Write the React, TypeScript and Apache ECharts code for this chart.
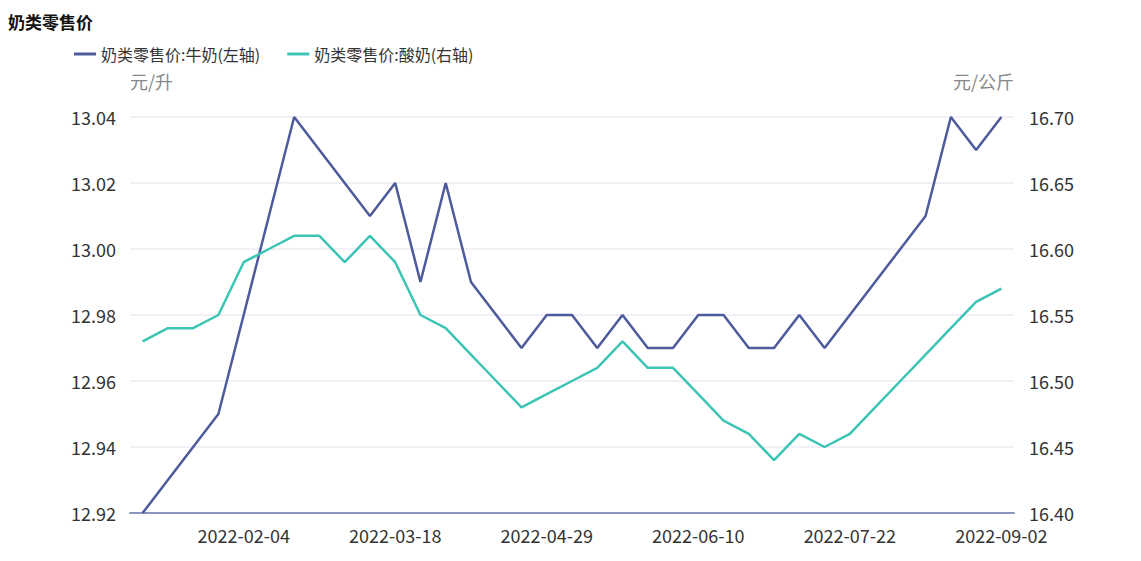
import React, { useEffect, useRef } from "react";
import * as echarts from "echarts";

const dates = [
  "2022-01-07", "2022-01-14", "2022-01-21", "2022-01-28", "2022-02-04", "2022-02-11", "2022-02-18",
  "2022-02-25", "2022-03-04", "2022-03-11", "2022-03-18", "2022-03-25", "2022-04-01", "2022-04-08",
  "2022-04-15", "2022-04-22", "2022-04-29", "2022-05-06", "2022-05-13", "2022-05-20", "2022-05-27",
  "2022-06-03", "2022-06-10", "2022-06-17", "2022-06-24", "2022-07-01", "2022-07-08", "2022-07-15",
  "2022-07-22", "2022-07-29", "2022-08-05", "2022-08-12", "2022-08-19", "2022-08-26", "2022-09-02",
];

const milk = [
  12.92, 12.93, 12.94, 12.95, 12.98, 13.01, 13.04, 13.03, 13.02, 13.01, 13.02, 12.99,
  13.02, 12.99, 12.98, 12.97, 12.98, 12.98, 12.97, 12.98, 12.97, 12.97, 12.98, 12.98,
  12.97, 12.97, 12.98, 12.97, 12.98, 12.99, 13.0, 13.01, 13.04, 13.03, 13.04,
];

const yogurt = [
  16.53, 16.54, 16.54, 16.55, 16.59, 16.6, 16.61, 16.61, 16.59, 16.61, 16.59, 16.55,
  16.54, 16.52, 16.5, 16.48, 16.49, 16.5, 16.51, 16.53, 16.51, 16.51, 16.49, 16.47,
  16.46, 16.44, 16.46, 16.45, 16.46, 16.48, 16.5, 16.52, 16.54, 16.56, 16.57,
];

const seriesNames = ["奶类零售价:牛奶(左轴)", "奶类零售价:酸奶(右轴)"];
const title = "奶类零售价";
const leftUnit = "元/升";
const rightUnit = "元/公斤";

const FONT = "'Noto Sans CJK SC', 'Noto Sans', sans-serif";

export default function App() {
  const ref = useRef<HTMLDivElement>(null);
  useEffect(() => {
    if (!ref.current) return;
    const chart = echarts.init(ref.current, null, { renderer: "svg" });
    chart.setOption({
      animation: false,
      textStyle: { fontFamily: FONT },
      title: {
        text: title,
        left: -5,
        top: 0,
        textStyle: { fontSize: 17, fontWeight: "bold", color: "#111", fontFamily: FONT },
      },
      legend: {
        top: 33,
        left: 61,
        itemWidth: 22,
        itemHeight: 3,
        itemGap: 27,
        textStyle: { fontSize: 16, color: "#333", fontFamily: FONT },
        data: [
          { name: seriesNames[0], icon: "rect" },
          { name: seriesNames[1], icon: "rect" },
        ],
      },
      grid: { left: 122, right: 119, top: 109, bottom: 40, containLabel: false },
      xAxis: {
        type: "category",
        data: dates,
        boundaryGap: true,
        axisLine: { lineStyle: { color: "#8a96bd", width: 2 } },
        axisTick: { show: false },
        axisLabel: {
          interval: (index: number) => index % 6 === 4,
          color: "#333",
          fontSize: 18,
          lineHeight: 18,
          margin: 13,
          fontFamily: FONT,
        },
      },
      yAxis: [
        {
          type: "value",
          min: 12.92,
          max: 13.04,
          interval: 0.02,
          name: leftUnit,
          nameLocation: "end",
          nameGap: 27,
          nameTextStyle: { color: "#888", fontSize: 18, align: "left", fontFamily: FONT },
          axisLine: { show: false },
          axisTick: { show: false },
          axisLabel: {
            color: "#333",
            fontSize: 18,
            lineHeight: 16,
            margin: 14,
            formatter: (v: number) => v.toFixed(2),
            fontFamily: FONT,
          },
          splitLine: { lineStyle: { color: "#f0f0f6", width: 2 } },
        },
        {
          type: "value",
          min: 16.4,
          max: 16.7,
          interval: 0.05,
          name: rightUnit,
          nameLocation: "end",
          nameGap: 27,
          nameTextStyle: { color: "#888", fontSize: 18, align: "right", fontFamily: FONT },
          axisLine: { show: false },
          axisTick: { show: false },
          axisLabel: {
            color: "#333",
            fontSize: 18,
            lineHeight: 16,
            margin: 15,
            formatter: (v: number) => v.toFixed(2),
            fontFamily: FONT,
          },
          splitLine: { show: false },
        },
      ],
      series: [
        {
          name: seriesNames[0],
          type: "line",
          yAxisIndex: 0,
          data: milk,
          symbol: "none",
          lineStyle: { color: "#4d5a9c", width: 2.5 },
          itemStyle: { color: "#4d5a9c" },
        },
        {
          name: seriesNames[1],
          type: "line",
          yAxisIndex: 1,
          data: yogurt,
          symbol: "none",
          lineStyle: { color: "#3cc4b4", width: 2.5 },
          itemStyle: { color: "#3cc4b4" },
        },
      ],
    });
    return () => chart.dispose();
  }, []);
  return <div ref={ref} style={{ width: 1125, height: 545 }} />;
}
